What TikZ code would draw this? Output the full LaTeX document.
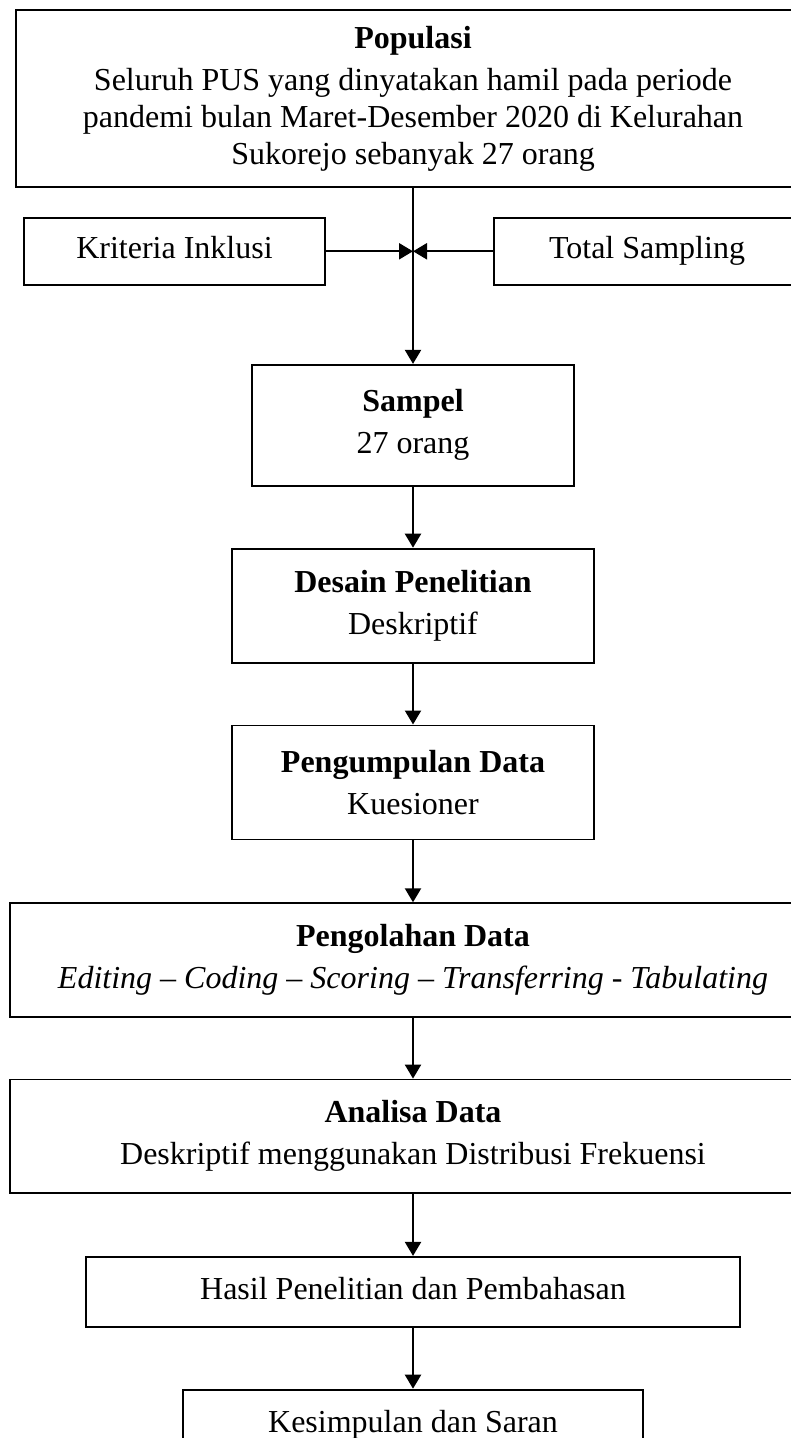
\documentclass[tikz,border=0pt]{standalone}
\usepackage{fontspec}
\setmainfont{Liberation Serif}
\usetikzlibrary{arrows.meta,positioning}

\begin{document}
\begin{tikzpicture}[
x=0.5pt, y=-0.5pt,
node distance = 30.5pt and 0pt,
box/.style = {draw, line width=0.9pt, align=center, inner sep=0pt,
              font=\fontsize{16}{18.5}\selectfont},
onebox/.style = {box, text height=11pt, text depth=3.5pt},
bigbox/.style = {box, minimum width=181pt, minimum height=57pt},
widebox/.style = {box, minimum width=403pt, minimum height=56.75pt},
arr/.style = {-{Triangle[length=7pt,width=8pt]}, line width=1.1pt}
                ]
\useasboundingbox (0,0) rectangle (791,1438);
%% populasi and sampling
\node (pop) [box, minimum width=397pt, minimum height=88.5pt] at (413,98.5)
  {\textbf{Populasi}\\[2.5pt]
   Seluruh PUS yang dinyatakan hamil pada periode\\
   pandemi bulan Maret-Desember 2020 di Kelurahan\\
   Sukorejo sebanyak 27 orang};
\node (krit) [onebox, minimum width=150.5pt, minimum height=33.5pt,
      below right=14.5pt and 4pt of pop.south west] {Kriteria Inklusi};
\node (total) [onebox, minimum width=153pt, minimum height=33.5pt,
      below left=14.5pt and 5pt of pop.south east] {Total Sampling};
\coordinate (mid) at (pop.south |- krit.east);
%% main flow
\node (sampel) [box, minimum width=161pt, minimum height=60.5pt,
      below=88pt of pop] {\textbf{Sampel}\\[2.5pt] 27 orang};
\node (desain) [bigbox, below=of sampel]
  {\textbf{Desain Penelitian}\\[2.5pt] Deskriptif};
\node (kumpul) [bigbox, below=of desain]
  {\textbf{Pengumpulan Data}\\[2.5pt] Kuesioner};
\node (olah) [widebox, below=31pt of kumpul]
  {\textbf{Pengolahan Data}\\[2.5pt]
   \textit{Editing – Coding – Scoring – Transferring - Tabulating}};
\node (analisa) [widebox, below=of olah]
  {\textbf{Analisa Data}\\[2.5pt]
   Deskriptif menggunakan Distribusi Frekuensi};
\node (hasil) [onebox, minimum width=327pt, minimum height=35pt,
      below=31pt of analisa] {Hasil Penelitian dan Pembahasan};
\node (simpul) [onebox, minimum width=230pt, minimum height=35pt,
      below=of hasil] {Kesimpulan dan Saran};
%% arrows
\draw [arr] (pop) -- (sampel);
\draw [arr] (krit) -- (mid);
\draw [arr] (total) -- (mid);
\draw [arr] (sampel) -- (desain);
\draw [arr] (desain) -- (kumpul);
\draw [arr] (kumpul) -- (olah);
\draw [arr] (olah) -- (analisa);
\draw [arr] (analisa) -- (hasil);
\draw [arr] (hasil) -- (simpul);
%%
\end{tikzpicture}
\end{document}
